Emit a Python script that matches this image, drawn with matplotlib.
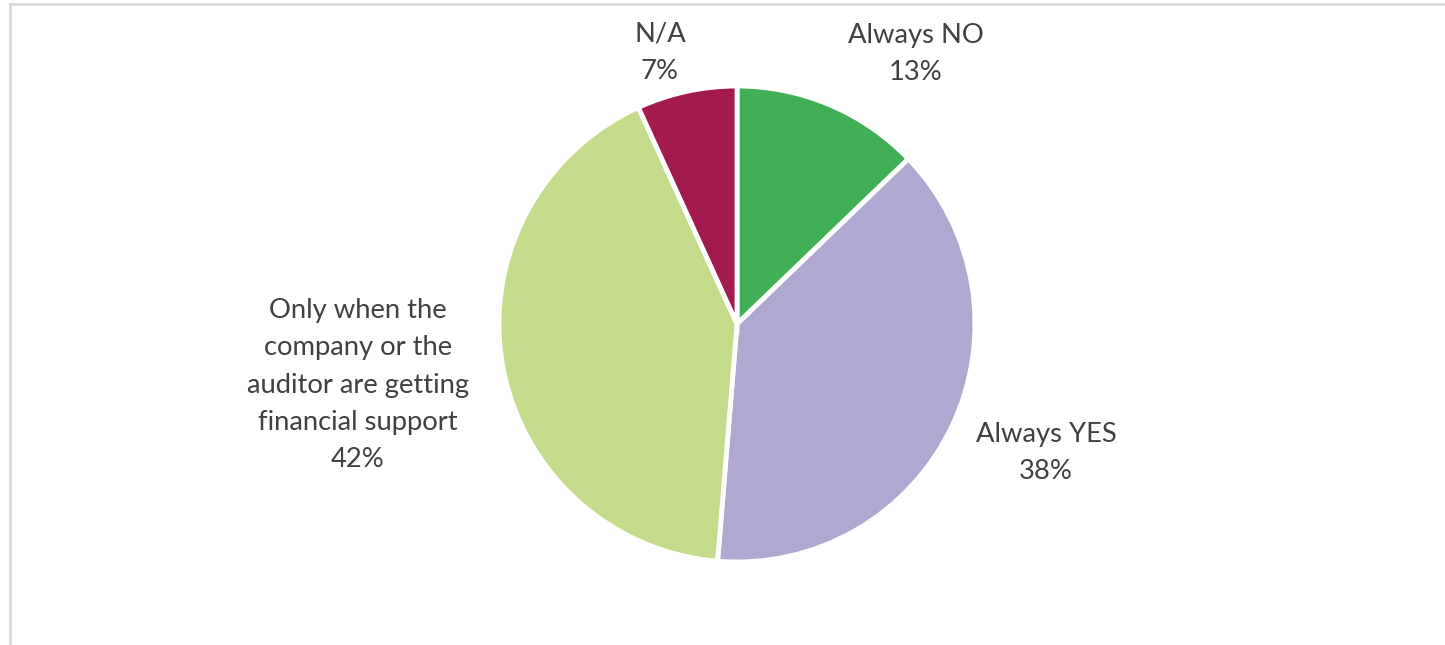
import matplotlib.pyplot as plt
from matplotlib.lines import Line2D

labels = ['Always NO', 'Always YES',
          'Only when the\ncompany or the\nauditor are getting\nfinancial support',
          'N/A']
values = [12.8, 38.5, 41.9, 6.8]
pct_labels = ['13%', '38%', '42%', '7%']
colors = ['#41AF55', '#AFA8D0', '#C5DB8C', '#A21A4E']

W, H = 1445, 645
fig = plt.figure(figsize=(W / 100, H / 100), dpi=100)
ax = fig.add_axes([0, 0, 1, 1])

ax.pie(values, colors=colors, startangle=90, counterclock=False,
       center=(737, H - 324), radius=238,
       wedgeprops=dict(edgecolor='white', linewidth=3.5))
ax.set_xlim(0, W)
ax.set_ylim(0, H)
ax.set_aspect('auto')
ax.axis('off')

# label positions (pixels, from top-left)
label_pos = [(916, 54), (1046, 453), (358, 385), (660, 53)]
for lab, pct, (px, py) in zip(labels, pct_labels, label_pos):
    ax.text(px, H - py, lab + '\n' + pct, ha='center', va='center',
            fontsize=19.7, color='#404040', family=['Lato', 'DejaVu Sans'],
            linespacing=1.62)

# chart-area border (only left and top visible)
fig.add_artist(Line2D([9.5 / W, 9.5 / W], [0, 1 - 3.5 / H], color='#D9D9D9',
                      linewidth=2, transform=fig.transFigure))
fig.add_artist(Line2D([9.5 / W, 1], [1 - 3.5 / H, 1 - 3.5 / H], color='#D9D9D9',
                      linewidth=2, transform=fig.transFigure))

fig.savefig('out.png', dpi=100)
